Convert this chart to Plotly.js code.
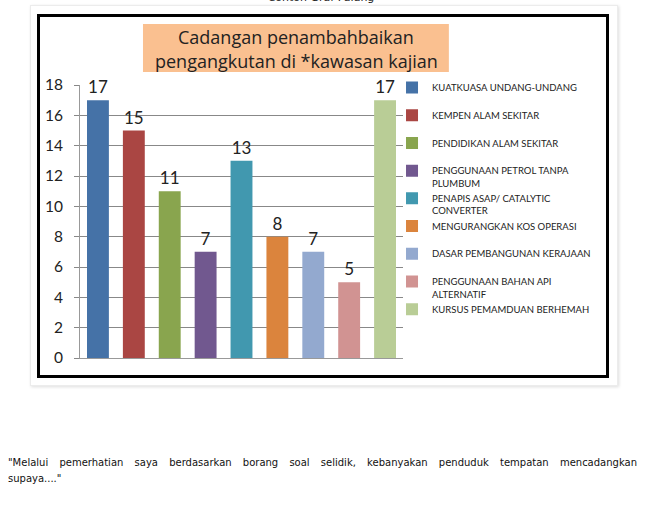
<!DOCTYPE html>
<html>
<head>
<meta charset="utf-8">
<script src="https://cdn.plot.ly/plotly-3.0.1.min.js"></script>
<style>
  html, body { margin: 0; padding: 0; background: #fff; width: 668px; height: 509px; overflow: hidden; }
  #caption { position: absolute; left: 0; width: 642px; top: -9px; text-align: center; font-family: "DejaVu Sans", sans-serif; font-size: 11px; color: #222; }
  #frame { position: absolute; left: 30px; top: 5px; width: 586px; height: 379px; border: 1px solid #ececec; box-shadow: 1px 1px 3px #ddd; background: #fff; }
  #box { position: absolute; left: 37px; top: 14px; width: 566px; height: 358px; border: 3px solid #000; }
  #chart { position: absolute; left: 0; top: 0; width: 668px; height: 509px; }
  #note { position: absolute; left: 8px; top: 455px; width: 629px; font-family: "DejaVu Sans", sans-serif; font-size: 10px; color: #111; line-height: 16px; }
  #note .l1 { text-align: justify; text-align-last: justify; }
</style>
</head>
<body>
<div id="caption">Contoh Graf Palang</div>
<div id="frame"></div>
<div id="box"></div>
<div id="chart"></div>
<div id="note"><div class="l1">"Melalui pemerhatian saya berdasarkan borang soal selidik, kebanyakan penduduk tempatan mencadangkan</div><div>supaya...."</div></div>
<script>
const category = ['Cadangan'];
const seriesNames = [
  'KUATKUASA UNDANG-UNDANG',
  'KEMPEN ALAM SEKITAR',
  'PENDIDIKAN ALAM SEKITAR',
  'PENGGUNAAN PETROL TANPA<br>PLUMBUM',
  'PENAPIS ASAP/ CATALYTIC<br>CONVERTER',
  'MENGURANGKAN KOS OPERASI',
  'DASAR PEMBANGUNAN KERAJAAN',
  'PENGGUNAAN BAHAN API<br>ALTERNATIF',
  'KURSUS PEMAMDUAN BERHEMAH'
];
const seriesValues = [17, 15, 11, 7, 13, 8, 7, 5, 17];
const seriesColors = ['#4572A7', '#AA4643', '#89A54E', '#71588F', '#4198AF', '#DB843D', '#93A9CF', '#D19392', '#B9CD96'];
const yTicks = [0, 2, 4, 6, 8, 10, 12, 14, 16, 18];
const titleLines = ['Cadangan penambahbaikan', 'pengangkutan di *kawasan kajian'];

const traces = seriesNames.map((name, i) => ({
  type: 'bar',
  name: name.indexOf('<br>') === -1 ? name + '<br> ' : name,
  x: category,
  y: [seriesValues[i]],
  marker: { color: seriesColors[i] },
  text: [String(seriesValues[i])],
  textposition: 'outside',
  cliponaxis: false,
  textfont: { family: 'Lato, sans-serif', size: 17, color: '#222' },
  hoverinfo: 'name+y'
}));

const titleFont = { family: '"Open Sans", sans-serif', size: 18, color: '#222' };

const layout = {
  width: 668, height: 509,
  margin: { l: 80, r: 265, t: 85, b: 151 },
  paper_bgcolor: 'rgba(0,0,0,0)',
  plot_bgcolor: 'rgba(0,0,0,0)',
  barmode: 'group',
  bargap: 0,
  bargroupgap: 0.39,
  showlegend: true,
  legend: {
    x: 0.966, xanchor: 'left', y: 1.037, yanchor: 'top',
    valign: 'top',
    font: { family: 'Lato, sans-serif', size: 9.5, color: '#222' },
    itemwidth: 30,
    bgcolor: 'rgba(0,0,0,0)'
  },
  xaxis: {
    showticklabels: false, showgrid: false, zeroline: false,
    showline: true, linecolor: '#999', linewidth: 1, fixedrange: true
  },
  yaxis: {
    range: [0, 18], tickvals: yTicks, ticks: 'outside', ticklen: 5, tickcolor: '#888',
    showline: true, linecolor: '#999', linewidth: 1,
    gridcolor: '#888', gridwidth: 1, zeroline: false,
    ticklabelstandoff: 8,
    tickfont: { family: 'Lato, sans-serif', size: 15.5, color: '#222' }
  },
  shapes: [{
    type: 'rect', xref: 'paper', yref: 'paper',
    x0: 0.195, x1: 1.142, y0: 1.0476, y1: 1.2234,
    fillcolor: '#FAC090', line: { width: 0 }, layer: 'below'
  }],
  annotations: [
    { xref: 'paper', yref: 'paper', x: 0.669, y: 1.1758, xanchor: 'center', yanchor: 'middle',
      text: titleLines[0], showarrow: false, font: titleFont },
    { xref: 'paper', yref: 'paper', x: 0.669, y: 1.0879, xanchor: 'center', yanchor: 'middle',
      text: titleLines[1], showarrow: false, font: titleFont }
  ]
};

Plotly.newPlot('chart', traces, layout, { displayModeBar: false, staticPlot: true });
</script>
</body>
</html>
